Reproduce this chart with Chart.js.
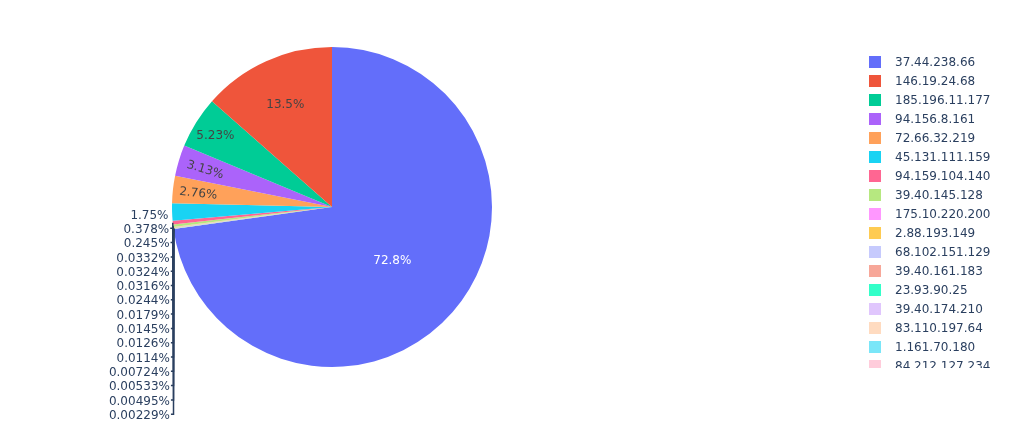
<!DOCTYPE html>
<html>
<head>
<meta charset="utf-8">
<title>Share per IP</title>
<script src="https://cdn.jsdelivr.net/npm/chart.js@4.4.1/dist/chart.umd.min.js"></script>
<style>
    body { margin: 0; background: #fff; }
    #wrap { position: relative; width: 1013px; height: 440px; }
    #legend {
        position: absolute; left: 855px; top: 52px; width: 158px; height: 316px;
        overflow: hidden; font: 12px "DejaVu Sans", Verdana, sans-serif; color: #2a3f5f;
    }
    .item { position: absolute; left: 0; width: 158px; height: 19px; white-space: nowrap; }
    .item .box { position: absolute; left: 14px; top: 3.5px; width: 12px; height: 12px; }
    .item .txt { position: absolute; left: 40px; top: 0; line-height: 19px; }
</style>
</head>
<body>
<div id="wrap">
    <canvas id="pie-js" width="1013" height="440"></canvas>
    <div id="legend"></div>
</div>
<script>
// legend order = sorted by share, as in the original
const IPS = ['37.44.238.66', '146.19.24.68', '185.196.11.177', '94.156.8.161', '72.66.32.219',
    '45.131.111.159', '94.159.104.140', '39.40.145.128', '175.10.220.200', '2.88.193.149',
    '68.102.151.129', '39.40.161.183', '23.93.90.25', '39.40.174.210', '83.110.197.64',
    '1.161.70.180', '84.212.127.234', 'ip #18', 'ip #19', 'ip #20'];

const SHARES = [72.8, 13.5, 5.23, 3.13, 2.76, 1.75, 0.378, 0.245, 0.0332, 0.0324,
    0.0316, 0.0244, 0.0179, 0.0145, 0.0126, 0.0114, 0.00724, 0.00533, 0.00495, 0.00229];

// plotly colorway + its lightened copies (pie extends the palette)
const COLORS = ['#636efa', '#ef553b', '#00cc96', '#ab63fa', '#ffa15a', '#19d3f3', '#ff6692', '#b6e880',
    '#ff97ff', '#fecb52', '#c6cafd', '#f7a799', '#33ffc9', '#e0c6fd', '#ffdbc0', '#7ae6f8',
    '#ffccdb', '#e8f8d6', '#fffdff', '#fff2d1'];

const FONT = '12px "DejaVu Sans", Verdana, sans-serif';
const LINE_H = 14.3;
const TEXTPAD = 3;
const TEXT_DY = 1.5;   // canvas 'middle' sits a bit high compared to svg text
const OUT_DY = 2;

// plotly draws the first slice clockwise from 12 o'clock and the rest the other way round
const drawOrder = [0, ...SHARES.map((v, i) => i).slice(1).reverse()];

function fillLegend() {
    const box = document.getElementById('legend');
    IPS.forEach((ip, i) => {
        const it = document.createElement('div');
        it.className = 'item';
        it.style.top = (19 * i + 0.5) + 'px';
        it.innerHTML = '<span class="box" style="background:' + COLORS[i] + '"></span><span class="txt">' + ip + '</span>';
        box.append(it);
    });
}

const fmtPercent = (v, total) => (v / total * 100).toPrecision(3).replace(/\.?0+$/, '') + '%';

const isLight = (hex) => {
    const n = parseInt(hex.slice(1), 16);
    return (((n >> 16) & 255) * 299 + ((n >> 8) & 255) * 587 + (n & 255) * 114) / 1000 >= 128;
}

function maxHalfSize(a, half, r) {
    const q = a + 1 / (2 * Math.tan(half));
    return r * Math.min(1 / (Math.sqrt(q * q + 0.5) + q), 1 / (Math.sqrt(a * a + 0.5) + a));
}

const upright = (t) => {
    let d = (t * 180 / Math.PI + 720) % 180;
    if (d >= 90) d -= 180;
    return d * Math.PI / 180;
}

// roughly plotly's "auto" text placement: horizontal, radial or tangential inside, else outside
function insideTransform(w, h, r, half, mid) {
    const rIns = Math.min(1 / (1 + 1 / Math.sin(half)), 0.5);
    const hor = { scale: rIns * r * 2 / Math.sqrt(w * w + h * h), rCenter: 1 - rIns, rotate: 0 };
    if (hor.scale >= 1) return hor;
    const rr = Math.max(0, r - 2 * TEXTPAD);
    let a = w / h, s = maxHalfSize(a, half, rr);
    const rad = { scale: s * 2 / h, rCenter: Math.cos(s / rr) - a * s / rr, rotate: upright(mid) };
    a = h / w; s = maxHalfSize(a, half, rr);
    const tan = { scale: s * 2 / w, rCenter: Math.cos(s / rr) - a * s / rr, rotate: upright(mid + Math.PI / 2) };
    return [hor, rad, tan].reduce((b, t) => t.scale > b.scale ? t : b);
}

const sliceText = {
    id: 'sliceText',
    afterDatasetsDraw(chart) {
        const ctx = chart.ctx;
        const meta = chart.getDatasetMeta(0);
        const values = chart.data.datasets[0].data;
        const colors = chart.data.datasets[0].backgroundColor;
        const total = values.reduce((a, b) => a + b, 0);
        const outside = [];
        ctx.save();
        ctx.font = FONT;
        ctx.textBaseline = 'middle';
        meta.data.forEach((arc, i) => {
            const p = arc.getProps(['x', 'y', 'startAngle', 'endAngle', 'outerRadius'], true);
            const mid = (p.startAngle + p.endAngle) / 2;
            const half = Math.PI * Math.min(values[i] / total, 0.5);
            const txt = fmtPercent(values[i], total);
            const w = ctx.measureText(txt).width;
            const t = insideTransform(w, LINE_H, p.outerRadius, half, mid);
            const px = p.outerRadius * Math.cos(mid), py = p.outerRadius * Math.sin(mid);
            if (t.scale >= 1) {
                ctx.save();
                ctx.translate(p.x + px * t.rCenter, p.y + py * t.rCenter);
                ctx.rotate(t.rotate);
                ctx.textAlign = 'center';
                ctx.fillStyle = isLight(colors[i]) ? '#444' : '#fff';
                ctx.fillText(txt, 0, TEXT_DY);
                ctx.restore();
            } else {
                const dy = LINE_H / 2 * (py < 0 ? -1 : 1);
                outside.push({ txt, w, cx: p.x, cy: p.y, px, py, left: px < 0,
                    y0: p.y + py + dy / (1 + px * px / (py * py || 1e-9)) });
            }
        });

        // push overlapping outside labels down, one line apart
        [true, false].forEach(side => {
            const group = outside.filter(o => o.left === side).sort((a, b) => a.y0 - b.y0);
            let prev = -Infinity;
            group.forEach(o => {
                o.y = Math.max(o.y0, prev + LINE_H);
                prev = o.y;
            });
        });

        ctx.fillStyle = '#2a3f5f';
        ctx.strokeStyle = '#2a3f5f';
        ctx.lineWidth = 1.5;
        outside.forEach(o => {
            const sx = o.cx + o.px, sy = o.cy + o.py;
            const edge = o.left ? sx - LINE_H / 4 : sx + LINE_H / 4;
            const ly = o.y + OUT_DY;
            ctx.textAlign = o.left ? 'right' : 'left';
            ctx.fillText(o.txt, edge, ly + TEXT_DY);
            if (o.y - o.y0 > 1) {
                ctx.beginPath();
                ctx.moveTo(sx, sy);
                ctx.lineTo(sx, ly);
                ctx.lineTo(edge + (o.left ? 1 : -1), ly);
                ctx.stroke();
            }
        });
        ctx.restore();
    }
};

function printPie() {
    new Chart(document.getElementById('pie-js').getContext('2d'), {
        type: 'pie',
        data: {
            labels: drawOrder.map(i => IPS[i]),
            datasets: [{
                data: drawOrder.map(i => SHARES[i]),
                backgroundColor: drawOrder.map(i => COLORS[i]),
                borderWidth: 0
            }]
        },
        options: {
            responsive: false,
            animation: false,
            layout: { padding: { left: 172, right: 521, top: 47, bottom: 73 } },
            plugins: {
                legend: { display: false },
                tooltip: { enabled: false }
            }
        },
        plugins: [sliceText]
    });
}

fillLegend();
printPie();
</script>
</body>
</html>
